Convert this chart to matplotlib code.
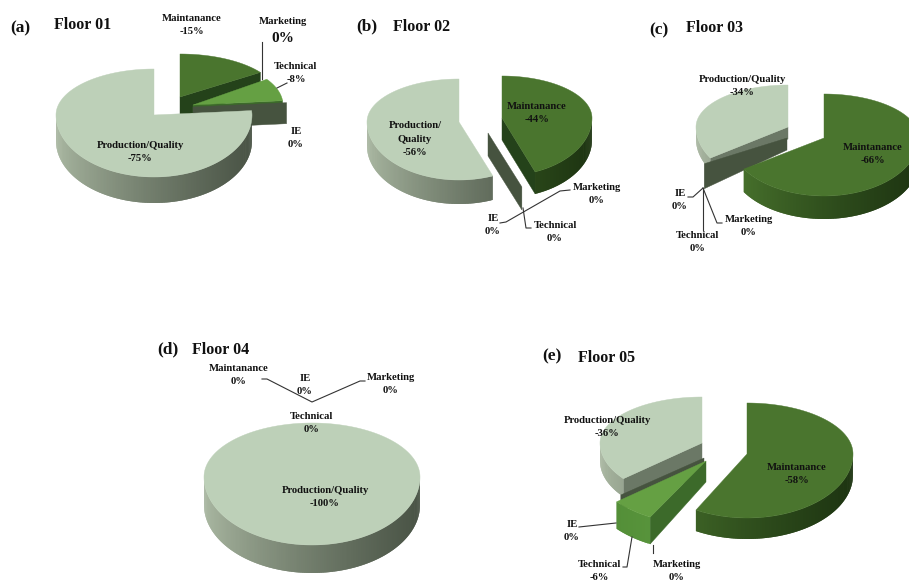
import numpy as np
import matplotlib
matplotlib.use('Agg')
import matplotlib.pyplot as plt
from matplotlib.collections import PolyCollection
from matplotlib.colors import to_rgb

# Values of each floor, in %
categories = ['Maintanance', 'Marketing', 'Technical', 'IE', 'Production/Quality']
floor_01 = [15, 0, 8, 0, 75]
floor_02 = [44, 0, 0, 0, 56]
floor_03 = [66, 0, 0, 0, 34]
floor_04 = [0, 0, 0, 0, 100]
floor_05 = [58, 0, 6, 0, 36]

# top, wall left, wall right, cut face
styles = {
    'Maintanance': ('#4a752e', '#4d7a30', '#1d3411', '#24421a'),
    'Marketing': ('#3e6b2c', '#3e6b2c', '#3e6b2c', '#3e6b2c'),
    'Technical': ('#65a043', '#4f8a35', '#66a345', '#3c6a2a'),
    'IE': ('#46533f', '#46533f', '#46533f', '#46533f'),
    'Production/Quality': ('#bdd0b8', '#acbaa4', '#495345', '#6b7866'),
}

# slices to draw, back to front: category, apex x, apex y, rx, ry top, ry bottom, depth, apex depth
layout_01 = [('Maintanance', 180, 97, 98, 43, 62, 20, 20),
             ('Technical', 193, 105, 90, 45, 62, 22, 22),
             ('IE', 193, 107, 94, 45, 62, 21, 21),
             ('Production/Quality', 154, 115, 98, 46, 62, 26, 26)]
layout_02 = [('Production/Quality', 459, 122, 92, 43, 58, 24, 24),
             ('IE', 488, 133, 92, 43, 58, 23, 23),
             ('Maintanance', 502, 118, 90, 42, 58, 22, 22)]
layout_03 = [('Production/Quality', 788, 127, 92, 42, 58, 12, 12),
             ('IE', 787, 138, 98, 42, 48, 25, 12),
             ('Maintanance', 824, 138, 95, 44, 58, 23, 23)]
layout_04 = [('Production/Quality', 312, 477, 108, 54, 68, 28, 28)]
layout_05 = [('Production/Quality', 702, 443, 102, 46, 56, 18, 18),
             ('IE', 704, 458, 108, 46, 58, 16, 16),
             ('Technical', 706, 461, 116, 46, 64, 27, 21),
             ('Maintanance', 747, 454, 106, 51, 64, 21, 21)]

# label text centres
labels_01 = {'Maintanance': (192, 25), 'Technical': (296, 73), 'IE': (296, 138), 'Production/Quality': (140, 152)}
labels_02 = {'Maintanance': (537, 113), 'Marketing': (597, 194), 'Technical': (555, 232), 'IE': (493, 225),
             'Production/Quality': (415, 139)}
labels_03 = {'Maintanance': (873, 154), 'Marketing': (749, 226), 'Technical': (698, 242), 'IE': (680, 200),
             'Production/Quality': (742, 86)}
labels_04 = {'Maintanance': (239, 375), 'Marketing': (391, 384), 'Technical': (312, 423), 'IE': (305, 385),
             'Production/Quality': (325, 497)}
labels_05 = {'Maintanance': (797, 474), 'Marketing': (677, 571), 'Technical': (599, 571), 'IE': (572, 531),
             'Production/Quality': (607, 427)}

leaders = [
    [(262, 42), (262, 79)], [(287, 83), (277, 88)],
    [(570, 190), (560, 191), (506, 222), (500, 223)], [(531, 228), (526, 228), (523, 208)],
    [(688, 197), (693, 197), (703, 188)], [(703, 230), (703, 188)], [(722, 223), (717, 223), (703, 188)],
    [(262, 379), (267, 379), (312, 402), (360, 381), (365, 381)],
    [(579, 527), (616, 523)], [(623, 567), (627, 567), (632, 537)], [(653, 545), (653, 553)],
]

panels = [('(a)', 20, 28, 'Floor 01', 83, 25), ('(b)', 367, 26, 'Floor 02', 422, 27),
          ('(c)', 659, 30, 'Floor 03', 714, 28), ('(d)', 168, 349, 'Floor 04', 221, 350),
          ('(e)', 552, 356, 'Floor 05', 607, 358)]

plt.rcParams['font.family'] = ['Liberation Serif', 'DejaVu Serif']
LABEL_SIZE = 7.7

fig = plt.figure(figsize=(9.09, 5.84), dpi=100)
ax = fig.add_axes([0, 0, 1, 1])
ax.set_xlim(0, 909)
ax.set_ylim(584, 0)
ax.axis('off')

z = [1]


def next_z():
    z[0] += 1
    return z[0]


def edge(t, x0, y0, rx, rt, rb):
    # point on the egg shaped rim, t in degrees clockwise from the top
    r = np.radians(t)
    ry = np.where(np.cos(r) >= 0, rt, rb)
    return x0 + rx * np.sin(r), y0 - ry * np.cos(r)


def draw_slice(name, start, end, x0, y0, rx, rt, rb, depth, apex_depth):
    top, wall_l, wall_r, face = styles[name]
    if end > start:
        t = np.linspace(start, end, int(end - start) + 2)
    else:
        t = np.array([start])
    x, y = edge(t, x0, y0, rx, rt, rb)

    # cut faces
    zero = end == start
    for a, visible in ((start, np.sin(np.radians(start)) < -0.01), (end, np.sin(np.radians(end)) > 0.01)):
        if visible or zero:
            ex, ey = edge(a, x0, y0, rx, rt, rb)
            ax.fill([x0, ex, ex, x0], [y0, ey, ey + depth, y0 + apex_depth], color=face, lw=0.3, zorder=next_z())
        if zero:
            break

    # outer wall, shaded from left to right; each quad overlaps the next so no seams show
    polys, cols = [], []
    c1, c2 = np.array(to_rgb(wall_l)), np.array(to_rgb(wall_r))
    for i in range(len(t) - 1):
        if np.cos(np.radians(t[i])) < 0.02 or np.cos(np.radians(t[i + 1])) < 0.02:
            j = min(i + 2, len(t) - 1)
            polys.append([(x[i], y[i]), (x[i + 1], y[i + 1]), (x[j], y[j]),
                          (x[j], y[j] + depth), (x[i + 1], y[i + 1] + depth), (x[i], y[i] + depth)])
            f = (np.sin(np.radians(t[i])) + 1) / 2
            cols.append(c1 + (c2 - c1) * f ** 0.75)
    if polys:
        ax.add_collection(PolyCollection(polys, facecolors=cols, edgecolors='none', zorder=next_z()))

    # top
    if not zero:
        ax.fill(np.r_[x0, x], np.r_[y0, y], color=top, lw=0.3, zorder=next_z())


def draw_pie(values, layout):
    cum = np.cumsum([0] + values) / sum(values) * 360
    for name, x0, y0, rx, rt, rb, depth, apex_depth in layout:
        i = categories.index(name)
        draw_slice(name, cum[i], cum[i + 1], x0, y0, rx, rt, rb, depth, apex_depth)


def draw_labels(values, labels):
    for name, (x, y) in labels.items():
        v = values[categories.index(name)]
        pct = f'-{v}%' if v else '0%'
        ax.text(x, y, f'{name}\n{pct}', ha='center', va='center', fontsize=LABEL_SIZE, fontweight='bold',
                color='#111111', linespacing=1.6, zorder=500)


draw_pie(floor_01, layout_01)
draw_pie(floor_02, layout_02)
draw_pie(floor_03, layout_03)
draw_pie(floor_04, layout_04)
draw_pie(floor_05, layout_05)

draw_labels(floor_01, labels_01)
draw_labels(floor_03, labels_03)
draw_labels(floor_04, labels_04)
draw_labels(floor_05, labels_05)
b_labels = dict(labels_02)
b_prod = b_labels.pop('Production/Quality')
draw_labels(floor_02, b_labels)
ax.text(b_prod[0], b_prod[1], 'Production/\nQuality\n-56%', ha='center', va='center', fontsize=LABEL_SIZE,
        fontweight='bold', color='#111111', linespacing=1.6, zorder=500)

# Marketing label of Floor 01 has a bigger percent
ax.text(283, 21, categories[1], ha='center', va='center', fontsize=LABEL_SIZE, fontweight='bold', color='#111111', zorder=500)
ax.text(283, 38, f'{floor_01[1]}%', ha='center', va='center', fontsize=11, fontweight='bold', color='#111111', zorder=500)

for line in leaders:
    xs, ys = zip(*line)
    ax.plot(xs, ys, color='#333333', lw=0.8, zorder=400)

for tag, tx, ty, title, fx, fy in panels:
    ax.text(tx, ty, tag, ha='center', va='center', fontsize=12.5, fontweight='bold', color='#111111')
    ax.text(fx, fy, title, ha='center', va='center', fontsize=11.5, fontweight='bold', color='#111111')

fig.savefig('out.png', dpi=100)
